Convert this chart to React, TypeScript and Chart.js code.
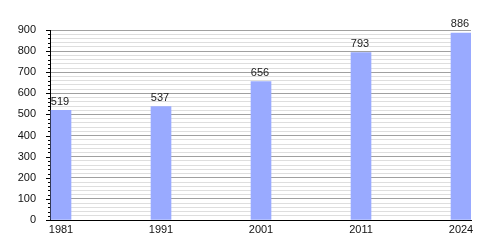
import React, { useEffect, useRef } from "react";
import { Chart, registerables } from "chart.js";

Chart.register(...registerables);

const years = ["1981", "1991", "2001", "2011", "2024"];
const population = [519, 537, 656, 793, 886];
const barColor = "#99aaff";
const yMax = 900;
const majorStep = 100;
const minorStep = 20;
const barOffset = 0.11;
const xMax = 4.21;

const tickMarks = {
  id: "tickMarks",
  afterDraw(chart: any) {
    const y = chart.scales.y;
    const ctx = chart.ctx;
    ctx.save();
    ctx.strokeStyle = "#000";
    ctx.lineWidth = 1;
    for (let v = 0; v <= yMax; v += minorStep) {
      const py = Math.round(y.getPixelForValue(v)) + 0.5;
      const len = v % majorStep === 0 ? 4 : 2;
      ctx.beginPath();
      ctx.moveTo(y.right - len, py);
      ctx.lineTo(y.right, py);
      ctx.stroke();
    }
    ctx.restore();
  },
};

const valueLabels = {
  id: "valueLabels",
  afterDatasetsDraw(chart: any) {
    const ctx = chart.ctx;
    const meta = chart.getDatasetMeta(0);
    ctx.save();
    ctx.font = "11px 'Liberation Sans', Arial, sans-serif";
    ctx.fillStyle = "#222";
    ctx.textAlign = "center";
    ctx.textBaseline = "bottom";
    meta.data.forEach((bar: any, i: number) => {
      ctx.fillText(String(population[i]), bar.x - 1, bar.y - 3);
    });
    ctx.restore();
  },
};

export default function App() {
  const ref = useRef<HTMLCanvasElement>(null);
  useEffect(() => {
    const chart = new Chart(ref.current!, {
      type: "bar",
      data: {
        datasets: [
          {
            data: population.map((p, i) => ({ x: i + barOffset, y: p })),
            backgroundColor: barColor,
            barThickness: 20,
          },
        ],
      },
      options: {
        animation: false,
        responsive: false,
        devicePixelRatio: 1,
        layout: { padding: { top: 30, right: 29, left: 0, bottom: 0 } },
        plugins: { legend: { display: false }, tooltip: { enabled: false } },
        scales: {
          x: {
            type: "linear",
            min: 0,
            max: xMax,
            offset: false,
            grid: { display: false, drawTicks: false, offset: false },
            border: { display: true, color: "#000", width: 1 },
            afterBuildTicks: (scale: any) => {
              scale.ticks = years.map((_, i) => ({ value: i + barOffset }));
            },
            afterFit: (scale: any) => {
              scale.height = 30;
            },
            ticks: {
              autoSkip: false,
              maxRotation: 0,
              padding: 3,
              color: "#111",
              font: { family: "'Liberation Sans', Arial, sans-serif", size: 11 },
              callback: (_v: any, i: number) => years[i],
            },
          },
          y: {
            min: 0,
            max: yMax,
            grid: {
              drawTicks: false,
              color: (c: any) =>
                c.tick && c.tick.value % majorStep === 0 ? "#a0a0a0" : "#dedede",
            },
            border: { display: true, color: "#000", width: 1 },
            afterFit: (scale: any) => {
              scale.width = 50;
            },
            ticks: {
              stepSize: minorStep,
              autoSkip: false,
              maxTicksLimit: 100,
              padding: 14,
              color: "#111",
              font: { family: "'Liberation Sans', Arial, sans-serif", size: 11 },
              callback: (v: any) => (v % majorStep === 0 ? String(v) : ""),
            },
          },
        },
      },
      plugins: [tickMarks, valueLabels],
    });
    return () => chart.destroy();
  }, []);
  return (
    <div style={{ position: "fixed", left: 0, top: 0, width: 500, height: 250, background: "#fff" }}>
      <canvas ref={ref} width={500} height={250} />
    </div>
  );
}
